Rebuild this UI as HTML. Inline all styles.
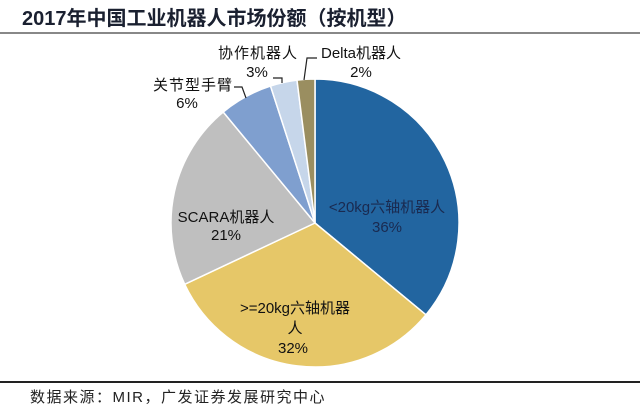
<!DOCTYPE html>
<html><head><meta charset="utf-8"><style>
body{margin:0;background:#fff;width:640px;height:411px;overflow:hidden}
text{font-family:"Liberation Sans","Noto Sans CJK SC",sans-serif}
</style></head><body>
<svg width="640" height="411" viewBox="0 0 640 411">
<text x="22" y="25" font-size="20" font-weight="bold" fill="#1a2030">2017年中国工业机器人市场份额（按机型）</text>
<line x1="0" y1="33" x2="640" y2="33" stroke="#888" stroke-width="2"/>
<g stroke="#fff" stroke-width="1.5">
<path d="M315,223 L315,79 A144,144 0 0 1 425.95,314.8 Z" fill="#2265a0"/>
<path d="M315,223 L425.95,314.8 A144,144 0 0 1 184.7,284.3 Z" fill="#e6c768"/>
<path d="M315,223 L184.7,284.3 A144,144 0 0 1 223.2,112 Z" fill="#bfbfbf"/>
<path d="M315,223 L223.2,112 A144,144 0 0 1 270.5,86 Z" fill="#7f9fcf"/>
<path d="M315,223 L270.5,86 A144,144 0 0 1 297,80.1 Z" fill="#c6d6ea"/>
<path d="M315,223 L297,80.1 A144,144 0 0 1 315,79 Z" fill="#9a8e60"/>
</g>
<g fill="none" stroke="#222" stroke-width="1.2">
<polyline points="234,87 242,87 246,98"/>
<polyline points="273,78 282,78 282,83"/>
<polyline points="317,58 307,58 304,80"/>
</g>
<g font-size="15" fill="#111" text-anchor="middle">
<text x="258" y="58" letter-spacing="1">协作机器人</text><text x="257" y="77">3%</text>
<text x="361" y="58">Delta机器人</text><text x="361" y="77">2%</text>
<text x="193" y="90" letter-spacing="1">关节型手臂</text><text x="187" y="108">6%</text>
<text x="226" y="222">SCARA机器人</text><text x="226" y="240">21%</text>
<text x="387" y="212" fill="#1a2a50">&lt;20kg六轴机器人</text><text x="387" y="232" fill="#1a2a50">36%</text>
<text x="295" y="313">&gt;=20kg六轴机器</text><text x="295" y="333">人</text><text x="293" y="353">32%</text>
</g>
<line x1="0" y1="382" x2="640" y2="382" stroke="#222" stroke-width="2"/>
<text x="30" y="402" font-size="15" letter-spacing="1.5" fill="#222">数据来源：MIR，广发证券发展研究中心</text>
</svg>
</body></html>
